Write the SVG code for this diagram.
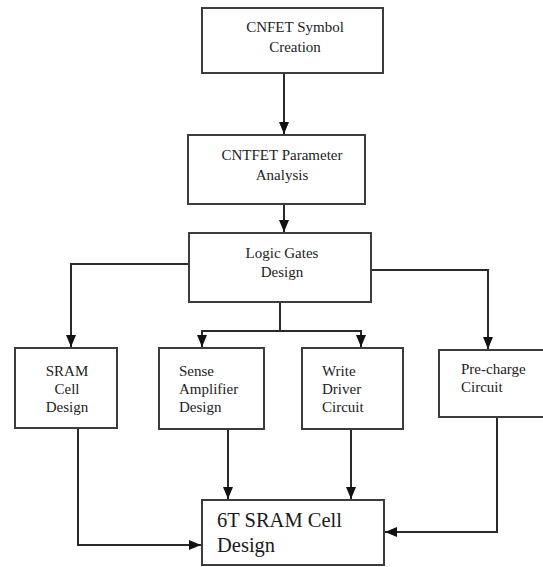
<svg xmlns="http://www.w3.org/2000/svg" width="543" height="567" viewBox="0 0 543 567">
<defs>
<style>
.box{fill:#fff;stroke:#3c3c3c;stroke-width:2}
.ln{fill:none;stroke:#2a2a2a;stroke-width:2}
.t{font-family:"Liberation Serif","Times New Roman",serif;font-size:15px;fill:#222}
.c{text-anchor:middle}
.big{font-family:"Liberation Serif","Times New Roman",serif;font-size:20.5px;fill:#1a1a1a}
</style>
<marker id="ah" markerUnits="userSpaceOnUse" markerWidth="12" markerHeight="12" viewBox="0 0 12 10" refX="12" refY="5" orient="auto">
<path d="M0,0 L12,5 L0,10 z" fill="#111"/>
</marker>
</defs>
<rect width="543" height="567" fill="#fff"/>
<g id="connectors">
<path class="ln" d="M284,73 V134" marker-end="url(#ah)"/>
<path class="ln" d="M284,204 V232" marker-end="url(#ah)"/>
<path class="ln" d="M189,264 H71 V347" marker-end="url(#ah)"/>
<path class="ln" d="M371,270 H488 V349" marker-end="url(#ah)"/>
<path class="ln" d="M280,302 V331"/>
<path class="ln" d="M202,331 H361"/>
<path class="ln" d="M202,330 V347" marker-end="url(#ah)"/>
<path class="ln" d="M361,330 V347" marker-end="url(#ah)"/>
<path class="ln" d="M78,428 V545 H201" marker-end="url(#ah)"/>
<path class="ln" d="M228,429 V499" marker-end="url(#ah)"/>
<path class="ln" d="M351,429 V499" marker-end="url(#ah)"/>
<path class="ln" d="M497,417 V532 H385" marker-end="url(#ah)"/>
</g>
<g id="n1">
<rect class="box" x="202" y="8" width="181" height="65"/>
<text class="t c" x="295" y="32">CNFET Symbol</text>
<text class="t c" x="295" y="52">Creation</text>
</g>
<g id="n2">
<rect class="box" x="188" y="135" width="177" height="69"/>
<text class="t c" x="282" y="160">CNTFET Parameter</text>
<text class="t c" x="282" y="180">Analysis</text>
</g>
<g id="n3">
<rect class="box" x="189" y="233" width="182" height="69"/>
<text class="t c" x="282" y="258">Logic Gates</text>
<text class="t c" x="282" y="277">Design</text>
</g>
<g id="n4">
<rect class="box" x="15" y="348" width="102" height="80"/>
<text class="t c" x="67" y="376">SRAM</text>
<text class="t c" x="67" y="394">Cell</text>
<text class="t c" x="67" y="412">Design</text>
</g>
<g id="n5">
<rect class="box" x="159" y="348" width="105" height="81"/>
<text class="t" x="179" y="376">Sense</text>
<text class="t" x="179" y="394">Amplifier</text>
<text class="t" x="179" y="412">Design</text>
</g>
<g id="n6">
<rect class="box" x="302" y="348" width="101" height="81"/>
<text class="t" x="322" y="376">Write</text>
<text class="t" x="322" y="394">Driver</text>
<text class="t" x="322" y="412">Circuit</text>
</g>
<g id="n7">
<rect class="box" x="439" y="350" width="110" height="67"/>
<text class="t" x="461" y="374">Pre-charge</text>
<text class="t" x="461" y="392">Circuit</text>
</g>
<g id="n8">
<rect class="box" x="202" y="500" width="182" height="65"/>
<text class="big" x="217" y="527">6T SRAM Cell</text>
<text class="big" x="217" y="552">Design</text>
</g>
</svg>
